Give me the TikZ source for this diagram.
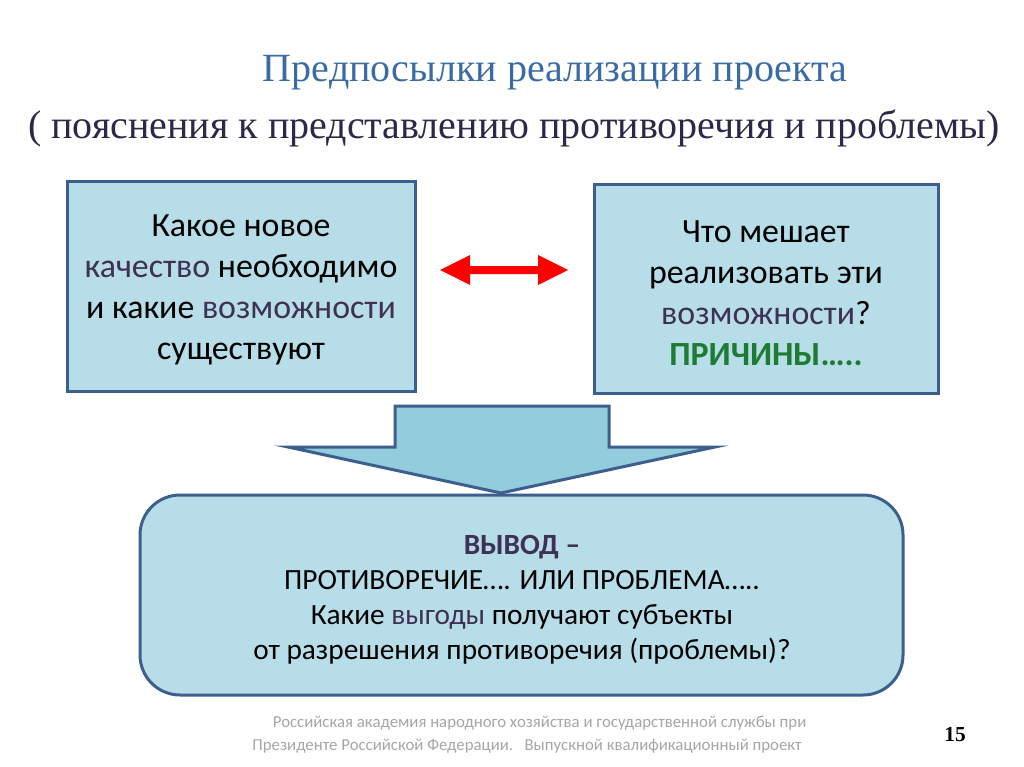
\documentclass[tikz,border=0pt]{standalone}
\usepackage{fontspec}
\setmainfont{Carlito}
\newfontfamily\titlefont{Liberation Serif}
\definecolor{boxfill}{HTML}{B7DDE8}
\definecolor{arrowfill}{HTML}{93CDDD}
\definecolor{boxline}{HTML}{3D5F8E}
\definecolor{titleblue}{HTML}{3A6BA3}
\definecolor{titledark}{HTML}{2C2848}
\definecolor{accent}{HTML}{3F3151}
\definecolor{green}{HTML}{1E7B34}
\definecolor{foot}{HTML}{A6A6A6}
\tikzset{
  qbox/.style={draw=boxline, line width=3pt*0.75, fill=boxfill},
  qtext/.style={align=center, font=\fontsize{25.4}{30.8}\selectfont, text=black},
  btext/.style={align=center, font=\fontsize{22}{26.3}\selectfont, text=black},
  ttext/.style={font=\titlefont\fontsize{30}{33}\selectfont},
}
\begin{document}
\begin{tikzpicture}[x=0.75pt, y=-0.75pt]
\useasboundingbox[fill=white] (0,0) rectangle (1024,767);
% title
\node[ttext, text=titleblue] (t1) at (555,73) {Предпосылки реализации проекта};
\node[ttext, text=titledark] (t2) at (514,128) {( пояснения к представлению противоречия и проблемы)};
% boxes
\draw[qbox] (67,181) rectangle (415,391);
\node[qtext] (left) at (241,290) {Какое новое\\{\color{accent}качество} необходимо\\и какие {\color{accent}возможности}\\существуют};
\draw[qbox] (594,184) rectangle (938,393);
\node[qtext] (right) at (766,293) {Что мешает\\реализовать эти\\{\color{accent}возможности}?\\{\bfseries\color{green}ПРИЧИНЫ…..}};
% double arrow
\fill[red] (440,270) -- (470,255) -- (470,266) -- (538,266) -- (538,255) -- (568,270) -- (538,285) -- (538,274) -- (470,274) -- (470,285) -- cycle;
% down arrow
\draw[draw=boxline, line width=3pt*0.75, fill=arrowfill, line join=miter]
  (395,406) -- (609,406) -- (609,447) -- (715,447) -- (501,493) -- (288,447) -- (395,447) -- cycle;
% bottom box
\draw[qbox, rounded corners=40*0.75pt] (140,495) rectangle (903,695);
\node[btext] (bottom) at (522,600) {{\bfseries\color{accent}ВЫВОД –}\\ПРОТИВОРЕЧИЕ…. ИЛИ ПРОБЛЕМА…..\\Какие {\color{accent}выгоды} получают субъекты\\от разрешения противоречия (проблемы)?};
% footer
\node[align=center, text=foot, font=\fontsize{12.6}{17.3}\selectfont] (foot) at (527,735) {\hspace*{1.5em}Российская академия народного хозяйства и государственной службы при\\Президенте Российской Федерации.\ \ \ Выпускной квалификационный проект};
\node[font=\titlefont\bfseries\fontsize{16}{18}\selectfont] (page) at (955,735) {15};
\end{tikzpicture}
\end{document}
